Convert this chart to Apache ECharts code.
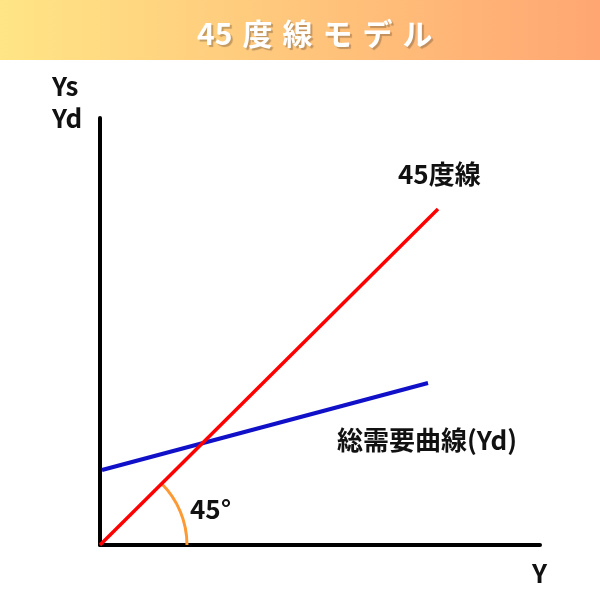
<!DOCTYPE html>
<html><head><meta charset="utf-8">
<script src="https://cdn.jsdelivr.net/npm/echarts@6/dist/echarts.min.js"></script>
<style>html,body{margin:0;padding:0;background:#fff}#c{width:600px;height:600px}</style>
</head><body><div id="c"></div>
<script>
// Data (units: arbitrary income units)
const titleText = '45\u2004度\u2004線\u2004モ\u2004デ\u2004ル';
const line45 = [[0, 0], [84.5, 84]];          // 45度線 (Ys = Y)
const demandLine = [[0.5, 18.75], [82, 40.5]]; // 総需要曲線 (Yd)
const xMax = 110, yMax = 106.75;
const labels = {
  ys: 'Ys', yd: 'Yd', y: 'Y', l45: '45度線', demand: '総需要曲線(Yd)', angle: '45°'
};
const font = '"Noto Sans CJK JP","Noto Sans",sans-serif';

const chart = echarts.init(document.getElementById('c'), null, {renderer: 'canvas'});
const opt = {
  animation: false,
  backgroundColor: '#fff',
  grid: {left: 100, top: 118, width: 440, height: 427},
  xAxis: {type: 'value', min: 0, max: xMax, axisLabel: {show: false}, axisTick: {show: false},
    splitLine: {show: false}, axisLine: {show: true, lineStyle: {color: '#000', width: 4}}},
  yAxis: {type: 'value', min: 0, max: yMax, axisLabel: {show: false}, axisTick: {show: false},
    splitLine: {show: false}, axisLine: {show: true, lineStyle: {color: '#000', width: 4}}},
  series: [
    {type: 'line', data: line45, symbol: 'none', lineStyle: {color: '#ff0000', width: 3.5}, z: 3},
    {type: 'line', data: demandLine, symbol: 'none', lineStyle: {color: '#1010c8', width: 4}, z: 2}
  ]
};
chart.setOption(opt);

const o = chart.convertToPixel({gridIndex: 0}, [0, 0]);
const txt = (t, x, y, extra) => Object.assign({type: 'text', x: x, y: y,
  style: {text: t, fill: '#111', font: 'bold 26px ' + font, textVerticalAlign: 'middle'}}, extra || {});
chart.setOption({
  graphic: [
    {type: 'rect', shape: {x: 0, y: 0, width: 600, height: 60}, z: 0,
      style: {fill: new echarts.graphic.LinearGradient(0, 0, 1, 0, [
        {offset: 0, color: '#ffe585'}, {offset: 1, color: '#ffa672'}])}},
    {type: 'text', x: 197, y: 34, z: 10, style: {text: titleText, fill: '#fff',
      font: 'bold 30px ' + font, textAlign: 'left', textVerticalAlign: 'middle',
      textShadowColor: 'rgba(120,90,60,0.45)', textShadowOffsetX: 2, textShadowOffsetY: 2, textShadowBlur: 1}},
    {type: 'arc', shape: {cx: o[0], cy: o[1], r: 87, startAngle: -Math.PI / 4, endAngle: 0, clockwise: true},
      style: {stroke: '#ff9933', lineWidth: 3, fill: null}, z: 1},
    txt(labels.ys, 52, 86),
    txt(labels.yd, 52, 118),
    txt(labels.y, 532, 573),
    txt(labels.l45, 398, 174),
    txt(labels.demand, 337, 440),
    txt(labels.angle, 190, 509)
  ]
});
</script></body></html>
